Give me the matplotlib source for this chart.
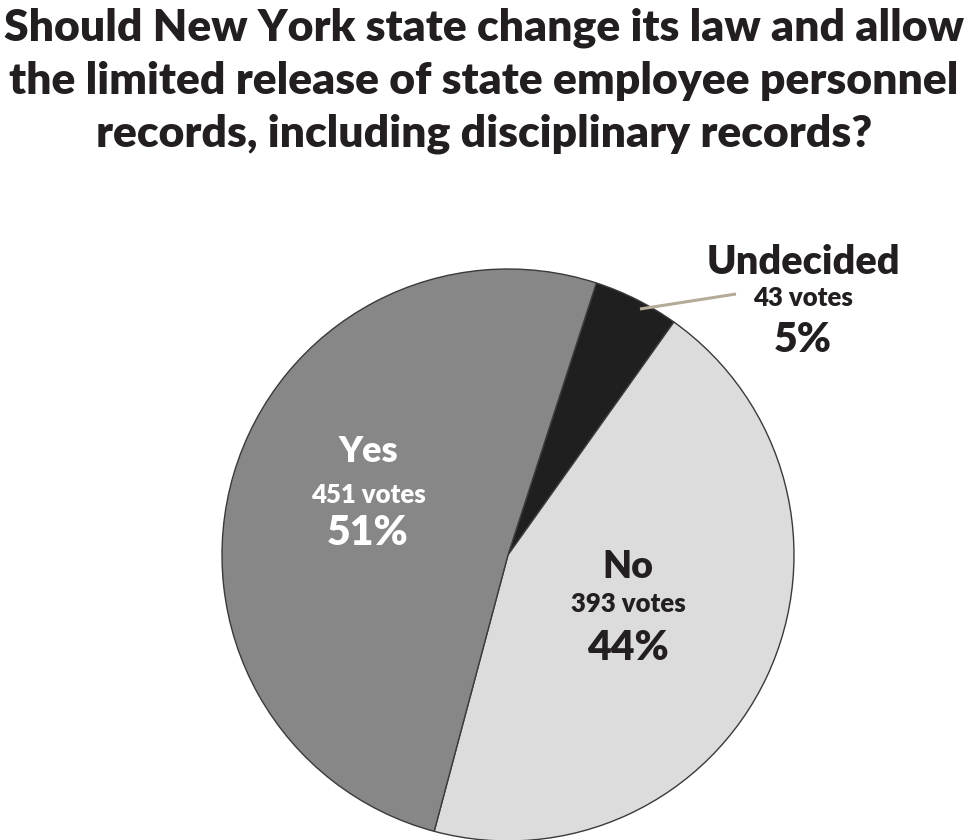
import matplotlib.pyplot as plt

# poll results
labels = ['Undecided', 'No', 'Yes']
votes = [43, 393, 451]
percents = ['5%', '44%', '51%']
colors = ['#1f1f1f', '#dcdcdc', '#878787']

title_lines = ['Should New York state change its law and allow',
               'the limited release of state employee personnel',
               'records, including disciplinary records?']

W, H = 969, 840
FONT = ['Lato', 'DejaVu Sans']
INK = '#231f20'


def py(y):
    # pixel row (from top) -> data y
    return H - y


fig = plt.figure(figsize=(W / 100, H / 100), dpi=100)
ax = fig.add_axes([0, 0, 1, 1])

ax.pie(votes, colors=colors, startangle=72, counterclock=False,
       center=(508, py(555)), radius=286, frame=True,
       wedgeprops=dict(edgecolor='#3a3a3a', linewidth=1.0))
ax.set_xlim(0, W)
ax.set_ylim(0, H)
ax.set_aspect('equal')
ax.axis('off')

# title, one line at a time (baselines)
for line, base in zip(title_lines, [41, 94, 147]):
    ax.text(484, py(base), line, ha='center', va='baseline', fontsize=32,
            fontweight='heavy', family=FONT, color=INK)

# label blocks
blocks = {
    'Yes': dict(x=368, y=(452, 495, 533), color='white', size=26),
    'No': dict(x=628, y=(567, 604, 648), color=INK, size=27),
    'Undecided': dict(x=803, y=(262, 298, 340), color=INK, size=28.5),
}
for name, v, pct in zip(labels, votes, percents):
    b = blocks[name]
    ax.text(b['x'], py(b['y'][0]), name, ha='center', va='center',
            fontsize=b['size'], fontweight='heavy', family=FONT,
            color=b['color'])
    ax.text(b['x'], py(b['y'][1]), f'{v} votes', ha='center', va='center',
            fontsize=18.5, fontweight='heavy', family=FONT, color=b['color'])
    ax.text(b['x'], py(b['y'][2]), pct, ha='center', va='center',
            fontsize=29.5, fontweight='heavy', family=FONT, color=b['color'])

# leader line for the small slice
ax.plot([640, 736], [py(309), py(294)], color='#b3ab95', linewidth=2.2,
        solid_capstyle='butt')

fig.savefig('out.png', dpi=100)
